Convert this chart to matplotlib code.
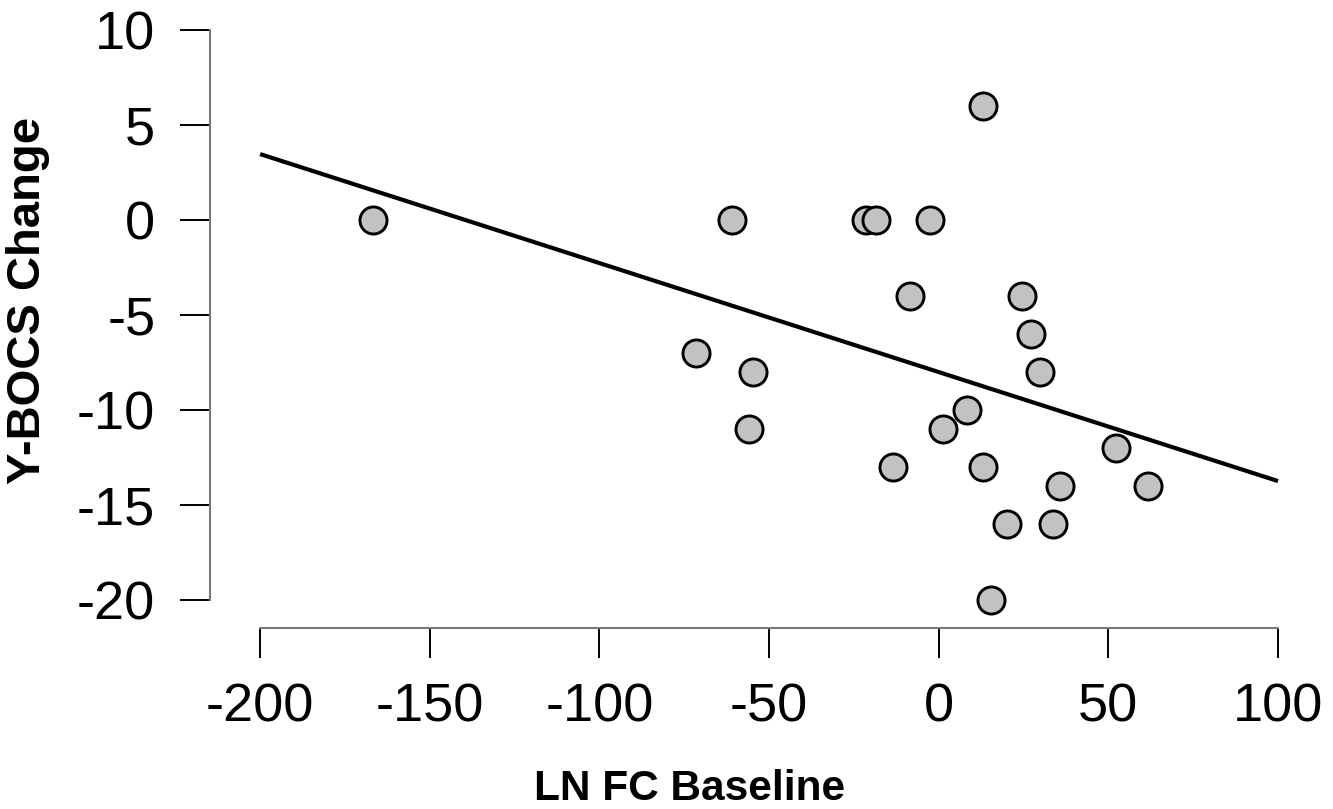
import matplotlib.pyplot as plt

# LN FC Baseline vs Y-BOCS change
ln_fc = [-166.7, -60.9, -21.4, -18.5, -2.6, 13.0, -8.5, 24.6, 27.2, 29.9,
         -71.5, -54.7, -55.9, 8.3, 1.3, -13.5, 13.0, 52.2, 35.7, 61.7,
         20.1, 33.7, 15.4]
ybocs = [0, 0, 0, 0, 0, 6, -4, -4, -6, -8,
         -7, -8, -11, -10, -11, -13, -13, -12, -14, -14,
         -16, -16, -20]

# regression line end points
fit_x = [-200, 100]
fit_y = [3.47, -13.74]

x_ticks = [-200, -150, -100, -50, 0, 50, 100]
y_ticks = [-20, -15, -10, -5, 0, 5, 10]

W, H = 1333, 809
plt.rcParams['font.family'] = ['Liberation Sans', 'DejaVu Sans']
plt.rcParams['axes.unicode_minus'] = False

fig = plt.figure(figsize=(W / 100, H / 100), dpi=100)
ax = fig.add_axes([219.4 / W, 1 - 622.8 / H, 1099.3 / W, 615.6 / H])

ax.plot(fit_x, fit_y, color='black', lw=3, solid_capstyle='butt', zorder=2)
ax.scatter(ln_fc, ybocs, s=19.5 ** 2, facecolor='#c2c2c2', edgecolor='black',
           linewidths=2.1, zorder=3)

ax.set_xlim(-212, 112)
ax.set_ylim(-21.2, 11.2)

for side in ['top', 'right']:
    ax.spines[side].set_visible(False)
ax.spines['left'].set_position(('outward', 6.5))
ax.spines['bottom'].set_position(('outward', 3.6))
ax.spines['left'].set_bounds(-20, 10)
ax.spines['bottom'].set_bounds(-200, 100)
for side in ['left', 'bottom']:
    ax.spines[side].set_color('#7a7a7a')
    ax.spines[side].set_linewidth(1.5)

ax.set_xticks(x_ticks)
ax.set_yticks(y_ticks)
ax.tick_params(axis='both', length=21.6, width=1.4, color='black',
               labelsize=39, pad=18)

fig.text(690 / W, 1 - 800 / H, 'LN FC Baseline', ha='center', va='baseline',
         fontsize=30.5, fontweight='bold')
fig.text(6 / W, 1 - 300 / H, 'Y-BOCS Change', ha='left', va='center',
         rotation=90, fontsize=34, fontweight='bold')

fig.savefig('out.png', dpi=100)
